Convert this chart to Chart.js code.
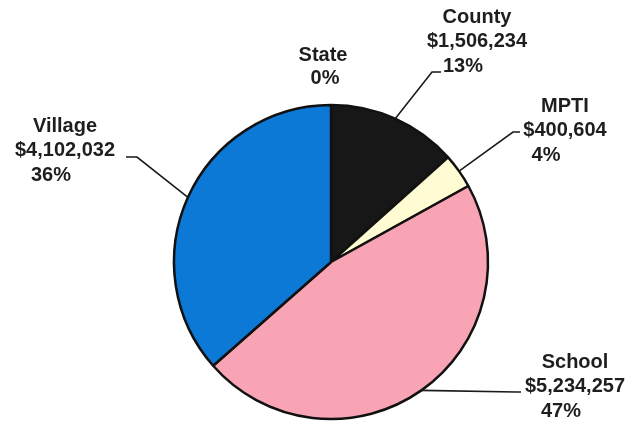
<!DOCTYPE html>
<html>
<head>
<meta charset="utf-8">
<script src="https://cdn.jsdelivr.net/npm/chart.js@4.4.0/dist/chart.umd.min.js"></script>
<style>
  html, body { margin: 0; padding: 0; background: #fff; }
  canvas { display: block; }
</style>
</head>
<body>
<canvas id="grafico" width="643" height="430"></canvas>
<script>
const categorias = ['State', 'County', 'MPTI', 'School', 'Village']
const valores = [0, 1506234, 400604, 5234257, 4102032]
const percentuais = ['0%', '13%', '4%', '47%', '36%']
const cores = ['#ffffff', '#171717', '#fffcd3', '#f8a4b4', '#0c79d6']

// onde fica cada rótulo (centro da 1a linha) e a linha guia
const rotulos = {
  State:   { x: 323, y: 55, dxPct: 2 },
  County:  { x: 477, y: 17, dxPct: -14, cotovelo: [432, 72], fim: 441 },
  MPTI:    { x: 565, y: 106, dxPct: -19, cotovelo: [513, 132], fim: 520 },
  School:  { x: 575, y: 362, dxPct: -14, cotovelo: [516, 392], fim: 521 },
  Village: { x: 65, y: 126, dxPct: -14, cotovelo: [137, 157], fim: 126 }
}

const fmtDinheiro = v => '$' + v.toLocaleString('en-US')

const pluginRotulos = {
  id: 'rotulos',
  afterDatasetsDraw(chart) {
    const ctx = chart.ctx
    const meta = chart.getDatasetMeta(0)
    ctx.save()
    meta.data.forEach((arc, i) => {
      const r = rotulos[categorias[i]]
      if (!r) return
      // linha guia
      if (r.cotovelo) {
        const meio = (arc.startAngle + arc.endAngle) / 2
        const px = arc.x + Math.cos(meio) * arc.outerRadius
        const py = arc.y + Math.sin(meio) * arc.outerRadius
        ctx.strokeStyle = '#1a1a1a'
        ctx.lineWidth = 1.6
        ctx.beginPath()
        ctx.moveTo(px, py)
        ctx.lineTo(r.cotovelo[0], r.cotovelo[1])
        ctx.lineTo(r.fim, r.cotovelo[1])
        ctx.stroke()
      }
      // texto
      ctx.fillStyle = '#1e1e1e'
      ctx.font = 'bold 20px "Liberation Sans", Arial, sans-serif'
      ctx.textAlign = 'center'
      ctx.textBaseline = 'middle'
      ctx.fillText(categorias[i], r.x, r.y)
      if (valores[i] > 0) {
        ctx.fillText(fmtDinheiro(valores[i]), r.x, r.y + 24.5)
        ctx.fillText(percentuais[i], r.x + r.dxPct, r.y + 49)
      } else {
        ctx.fillText(percentuais[i], r.x + r.dxPct, r.y + 23)
      }
    })
    ctx.restore()
  }
}

new Chart(document.getElementById('grafico'), {
  type: 'pie',
  data: {
    labels: categorias,
    datasets: [{
      data: valores,
      backgroundColor: cores,
      borderColor: '#111',
      borderWidth: 2.5,
      hoverOffset: 0,
      radius: 157
    }]
  },
  options: {
    responsive: false,
    animation: false,
    layout: { padding: { left: 19, right: 0, top: 94, bottom: 0 } },
    plugins: {
      legend: { display: false },
      tooltip: { enabled: false }
    }
  },
  plugins: [pluginRotulos]
})
</script>
</body>
</html>
